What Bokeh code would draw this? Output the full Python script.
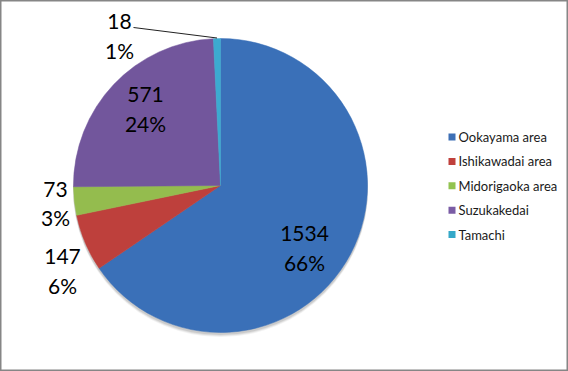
import math
from bokeh.plotting import figure
from bokeh.models import ColumnDataSource, Range1d
from bokeh.core.properties import value
from bokeh.embed import file_html
from bokeh.resources import INLINE

# ---- data ----
categories = ["Ookayama area", "Ishikawadai area", "Midorigaoka area", "Suzukakedai", "Tamachi"]
counts = [1534, 147, 73, 571, 18]
pct_labels = ["66%", "6%", "3%", "24%", "1%"]
colors = ["#3A70B8", "#BE403C", "#94BC4E", "#72569C", "#3CAAD0"]
legend_colors = ["#3D6FB5", "#C0403C", "#92C350", "#7A5CA5", "#35A8C8"]

# ---- layout (page pixel coords -> data coords) ----
W, H = 568, 371
def X(px): return px
def Y(py): return H - py

CX, CY, R = 220, 185, 147
# label centres (page px) for each slice: (x, y of first line, y of second line)
label_pos = [(304, 233, 262), (62, 256, 285), (55, 189, 217), (145, 94, 123), (119, 21, 50)]

p = figure(width=W, height=H, output_backend="svg", toolbar_location=None,
           x_range=Range1d(0, W), y_range=Range1d(0, H),
           x_axis_location=None, y_axis_location=None, min_border=0,
           background_fill_color="white", border_fill_color="white")
p.grid.visible = False
p.outline_line_color = "#868686"
p.outline_line_width = 2

# shadow
for off, a in [(4, 0.05), (3, 0.07), (2, 0.09)]:
    p.circle(x=[X(CX)], y=[Y(CY + off)], radius=R + 0.5, fill_color="black",
             fill_alpha=a, line_color=None)

total = sum(counts)
starts, ends = [], []
cum = 0
for v in counts:
    starts.append(math.pi / 2 - 2 * math.pi * cum / total)
    cum += v
    ends.append(math.pi / 2 - 2 * math.pi * cum / total)

src = ColumnDataSource(dict(x=[X(CX)] * len(counts), y=[Y(CY)] * len(counts),
                            start=starts, end=ends, color=colors))
p.wedge(x="x", y="y", radius=R, start_angle="start", end_angle="end",
        direction="clock", fill_color="color", line_color="color", line_width=0.5,
        source=src)

# leader line for Tamachi
p.line(x=[X(133), X(216.5)], y=[Y(27), Y(37.5)], line_color="#222222", line_width=1)

# data labels
lx, ly = [], []
texts = []
for (x0, y1, y2), v, pc in zip(label_pos, counts, pct_labels):
    lx += [X(x0), X(x0)]
    ly += [Y(y1), Y(y2)]
    texts += [str(v), pc]
p.text(x=lx, y=ly, text=texts, text_font=value("Lato"), text_font_size=value("21px"),
       text_align="center", text_baseline="middle", text_color="#000000")

# legend
leg_y = [136.5 + 24.4 * i for i in range(len(categories))]
p.scatter(x=[X(451.5)] * len(categories), y=[Y(v) for v in leg_y], marker="square",
          size=7, fill_color=legend_colors, line_color=None)
p.text(x=[X(458)] * len(categories), y=[Y(v) for v in leg_y], text=categories,
       text_font=value("Lato"), text_font_size=value("13px"), text_align="left",
       text_baseline="middle", text_color="#1a1a1a")

open("out.html", "w").write(file_html(p, INLINE))
